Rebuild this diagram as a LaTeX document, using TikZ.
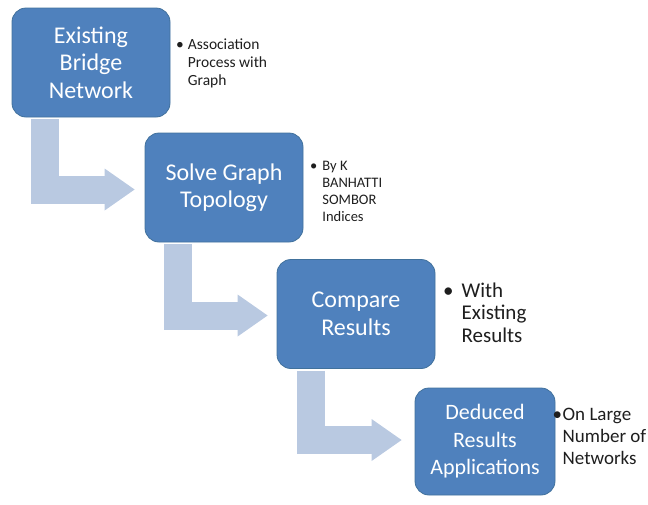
\documentclass[tikz,border=0pt]{standalone}
\usepackage{fontspec}
\setmainfont{Carlito}
\usetikzlibrary{arrows.meta,calc}
\definecolor{boxblue}{HTML}{4F81BD}
\definecolor{boxedge}{HTML}{41719C}
\definecolor{arrowblue}{HTML}{B9C9E1}
\definecolor{sidetext}{HTML}{1E1E1E}
\begin{document}
\begin{tikzpicture}[x=1pt,y=-1pt,
  stepbox/.style={draw=boxedge, line width=0.8pt, fill=boxblue, rounded corners=14pt,
    minimum width=158pt, minimum height=109pt, inner sep=0pt, text=white, align=center,
    font=\fontsize{24}{27.5}\selectfont},
  bent/.style={draw=arrowblue, line width=28pt, line cap=butt,
    -{Triangle[length=30pt,width=42pt,line width=0pt]}},
  side/.style={anchor=base west, inner sep=0pt, text=sidetext}]
\useasboundingbox (0,0) rectangle (648,504);

\node[stepbox] (b1) at (91,62.5) {Existing\\Bridge\\Network};
\node[stepbox] (b2) at (224,187.5) {Solve Graph\\Topology};
\node[stepbox] (b3) at (356,314) {Compare\\Results};
\node[stepbox, minimum width=140pt, minimum height=107pt, font=\fontsize{22}{27.5}\selectfont] (b4) at (485,441.5) {Deduced\\Results\\Applications};

\draw[bent] ($(b1.south west)+(33.5,2)$) |- ($(b2.west)+(-10,2)$);
\draw[bent] ($(b2.south west)+(33,2)$) |- ($(b3.west)+(-9,1.5)$);
\draw[bent] ($(b3.south west)+(34,2)$) |- ($(b4.west)+(-13,-1.5)$);

\node[side, font=\fontsize{15.5}{18}\selectfont] (s1) at (176,49)
  {\begin{tabular}[t]{@{}l@{\hspace{4pt}}l@{}}\textbullet & Association\\ & Process with\\ & Graph\end{tabular}};
\node[side, font=\fontsize{14.5}{17}\selectfont] (s2) at (310,170)
  {\begin{tabular}[t]{@{}l@{\hspace{5pt}}l@{}}\textbullet & By K\\ & BANHATTI\\ & SOMBOR\\ & Indices\end{tabular}};
\node[side, font=\fontsize{21}{22.5}\selectfont] (s3) at (443,297)
  {\begin{tabular}[t]{@{}l@{\hspace{8pt}}l@{}}\textbullet & With\\ & Existing\\ & Results\end{tabular}};
\node[side, font=\fontsize{19}{22}\selectfont] (s4) at (552.5,420)
  {\begin{tabular}[t]{@{}l@{\hspace{0.5pt}}l@{}}\textbullet & On Large\\ & Number of\\ & Networks\end{tabular}};
\end{tikzpicture}
\end{document}
